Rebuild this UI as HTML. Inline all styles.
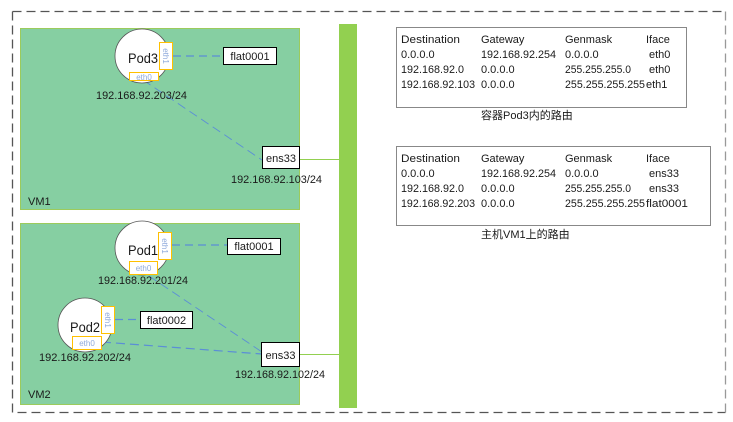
<!DOCTYPE html>
<html><head><meta charset="utf-8"><style>
html,body{margin:0;padding:0;background:#fff;}
svg{display:block;}
text{font-family:"Liberation Sans","Noto Sans CJK SC",sans-serif;fill:#1a1a1a;}
</style></head><body>
<svg width="733" height="422" viewBox="0 0 733 422" xmlns="http://www.w3.org/2000/svg">
<!-- outer dashed border -->
<path d="M12.5 11.5 H725.5" stroke="#555" stroke-width="1.3" stroke-dasharray="9 5" fill="none"/>
<path d="M12.5 11.5 V412.5 H725.5" stroke="#555" stroke-width="1.3" stroke-dasharray="9 5" fill="none"/>
<path d="M725.5 11.5 V412.5" stroke="#999" stroke-width="1.3" stroke-dasharray="9 5" fill="none"/>

<!-- VM1 -->
<rect x="20.5" y="28.5" width="279" height="181" fill="#86CFA2" stroke="#9CCB5C" stroke-width="1"/>
<!-- VM2 -->
<rect x="20.5" y="223.5" width="279" height="181" fill="#86CFA2" stroke="#9CCB5C" stroke-width="1"/>

<!-- green bar -->
<rect x="339" y="24" width="18" height="384" fill="#92D050"/>

<!-- green connectors -->
<line x1="299" y1="159.5" x2="339" y2="159.5" stroke="#92D050" stroke-width="1"/>
<line x1="299" y1="354.5" x2="339" y2="354.5" stroke="#92D050" stroke-width="1"/>

<!-- dashed blue connectors -->
<line x1="173" y1="56" x2="223" y2="56" stroke="#5B8ED6" stroke-width="1.2" stroke-dasharray="8 5"/>
<line x1="143" y1="80" x2="262" y2="160" stroke="#5B8ED6" stroke-width="0.9" stroke-dasharray="9 5"/>
<line x1="172" y1="245" x2="227" y2="245" stroke="#5B8ED6" stroke-width="1.2" stroke-dasharray="8 5"/>
<line x1="149" y1="276" x2="262" y2="352" stroke="#5B8ED6" stroke-width="0.9" stroke-dasharray="9 5"/>
<line x1="115" y1="319.5" x2="140" y2="319.5" stroke="#5B8ED6" stroke-width="1.2" stroke-dasharray="8 5"/>
<line x1="102" y1="342" x2="262" y2="354" stroke="#5B8ED6" stroke-width="1.2" stroke-dasharray="9 5"/>

<!-- Pod3 -->
<circle cx="142" cy="56" r="27" fill="#fff" stroke="#555" stroke-width="0.8"/>
<text x="128" y="63" font-size="14" textLength="30" lengthAdjust="spacingAndGlyphs">Pod3</text>
<rect x="159.5" y="42.5" width="13" height="27" fill="#fff" stroke="#FFC000" stroke-width="1"/>
<text transform="translate(163,56) rotate(90)" text-anchor="middle" font-size="8" style="fill:#8EA9DB">eth1</text>
<rect x="129.5" y="72.5" width="29" height="8" fill="#fff" stroke="#FFC000" stroke-width="1"/>
<text x="144" y="80" text-anchor="middle" font-size="8" style="fill:#8EA9DB">eth0</text>
<text x="96" y="99" font-size="11" textLength="91" lengthAdjust="spacingAndGlyphs">192.168.92.203/24</text>

<!-- flat0001 VM1 -->
<rect x="223.5" y="47.5" width="53" height="17" fill="#fff" stroke="#000" stroke-width="1"/>
<text x="250" y="60" text-anchor="middle" font-size="11">flat0001</text>

<!-- ens33 VM1 -->
<rect x="262.5" y="146.5" width="37" height="22" fill="#fff" stroke="#000" stroke-width="1"/>
<text x="281" y="162" text-anchor="middle" font-size="11">ens33</text>
<text x="231" y="183" font-size="11" textLength="91" lengthAdjust="spacingAndGlyphs">192.168.92.103/24</text>
<text x="28" y="205" font-size="11">VM1</text>

<!-- Pod1 -->
<circle cx="142" cy="248" r="27" fill="#fff" stroke="#555" stroke-width="0.8"/>
<text x="128" y="255" font-size="14" textLength="30" lengthAdjust="spacingAndGlyphs">Pod1</text>
<rect x="158.5" y="232.5" width="13" height="27" fill="#fff" stroke="#FFC000" stroke-width="1"/>
<text transform="translate(162,246) rotate(90)" text-anchor="middle" font-size="8" style="fill:#8EA9DB">eth1</text>
<rect x="129.5" y="261.5" width="28" height="13" fill="#fff" stroke="#FFC000" stroke-width="1"/>
<text x="143.5" y="271" text-anchor="middle" font-size="8" style="fill:#8EA9DB">eth0</text>
<text x="98" y="284" font-size="11" textLength="90" lengthAdjust="spacingAndGlyphs">192.168.92.201/24</text>

<!-- flat0001 VM2 -->
<rect x="227.5" y="238.5" width="53" height="16" fill="#fff" stroke="#000" stroke-width="1"/>
<text x="254" y="250" text-anchor="middle" font-size="11">flat0001</text>

<!-- Pod2 -->
<circle cx="85" cy="325" r="27" fill="#fff" stroke="#555" stroke-width="0.8"/>
<text x="70" y="332" font-size="14" textLength="30" lengthAdjust="spacingAndGlyphs">Pod2</text>
<rect x="101.5" y="306.5" width="13" height="27" fill="#fff" stroke="#FFC000" stroke-width="1"/>
<text transform="translate(105,320) rotate(90)" text-anchor="middle" font-size="8" style="fill:#8EA9DB">eth1</text>
<rect x="72.5" y="336.5" width="29" height="13" fill="#fff" stroke="#FFC000" stroke-width="1"/>
<text x="87" y="346" text-anchor="middle" font-size="8" style="fill:#8EA9DB">eth0</text>
<text x="39" y="361" font-size="11" textLength="92" lengthAdjust="spacingAndGlyphs">192.168.92.202/24</text>

<!-- flat0002 -->
<rect x="140.5" y="311.5" width="52" height="17" fill="#fff" stroke="#000" stroke-width="1"/>
<text x="166.5" y="324" text-anchor="middle" font-size="11">flat0002</text>

<!-- ens33 VM2 -->
<rect x="261.5" y="342.5" width="38" height="24" fill="#fff" stroke="#000" stroke-width="1"/>
<text x="280.5" y="359" text-anchor="middle" font-size="11">ens33</text>
<text x="235" y="378" font-size="11" textLength="90" lengthAdjust="spacingAndGlyphs">192.168.92.102/24</text>
<text x="28" y="398" font-size="11">VM2</text>

<!-- table 1 -->
<rect x="396.5" y="27.5" width="290" height="80" fill="#fff" stroke="#888" stroke-width="1"/>
<g font-size="11">
<text x="401" y="43" textLength="59" lengthAdjust="spacingAndGlyphs">Destination</text><text x="481" y="43">Gateway</text><text x="565" y="43">Genmask</text><text x="646" y="43">Iface</text>
<text x="401" y="58">0.0.0.0</text><text x="481" y="58" textLength="75" lengthAdjust="spacingAndGlyphs">192.168.92.254</text><text x="565" y="58">0.0.0.0</text><text x="649" y="58">eth0</text>
<text x="401" y="73" textLength="63" lengthAdjust="spacingAndGlyphs">192.168.92.0</text><text x="481" y="73">0.0.0.0</text><text x="565" y="73" textLength="66" lengthAdjust="spacingAndGlyphs">255.255.255.0</text><text x="649" y="73">eth0</text>
<text x="401" y="88" textLength="74" lengthAdjust="spacingAndGlyphs">192.168.92.103</text><text x="481" y="88">0.0.0.0</text><text x="565" y="88" textLength="80" lengthAdjust="spacingAndGlyphs">255.255.255.255</text><text x="646" y="88">eth1</text>
<text x="481" y="119">容器Pod3内的路由</text>
</g>

<!-- table 2 -->
<rect x="396.5" y="146.5" width="314" height="79" fill="#fff" stroke="#888" stroke-width="1"/>
<g font-size="11">
<text x="401" y="162" textLength="59" lengthAdjust="spacingAndGlyphs">Destination</text><text x="481" y="162">Gateway</text><text x="565" y="162">Genmask</text><text x="646" y="162">Iface</text>
<text x="401" y="177">0.0.0.0</text><text x="481" y="177" textLength="75" lengthAdjust="spacingAndGlyphs">192.168.92.254</text><text x="565" y="177">0.0.0.0</text><text x="649" y="177">ens33</text>
<text x="401" y="192" textLength="63" lengthAdjust="spacingAndGlyphs">192.168.92.0</text><text x="481" y="192">0.0.0.0</text><text x="565" y="192" textLength="66" lengthAdjust="spacingAndGlyphs">255.255.255.0</text><text x="649" y="192">ens33</text>
<text x="401" y="207" textLength="74" lengthAdjust="spacingAndGlyphs">192.168.92.203</text><text x="481" y="207">0.0.0.0</text><text x="565" y="207" textLength="80" lengthAdjust="spacingAndGlyphs">255.255.255.255</text><text x="646" y="207" textLength="42" lengthAdjust="spacingAndGlyphs">flat0001</text>
<text x="481" y="238">主机VM1上的路由</text>
</g>
</svg>
</body></html>
